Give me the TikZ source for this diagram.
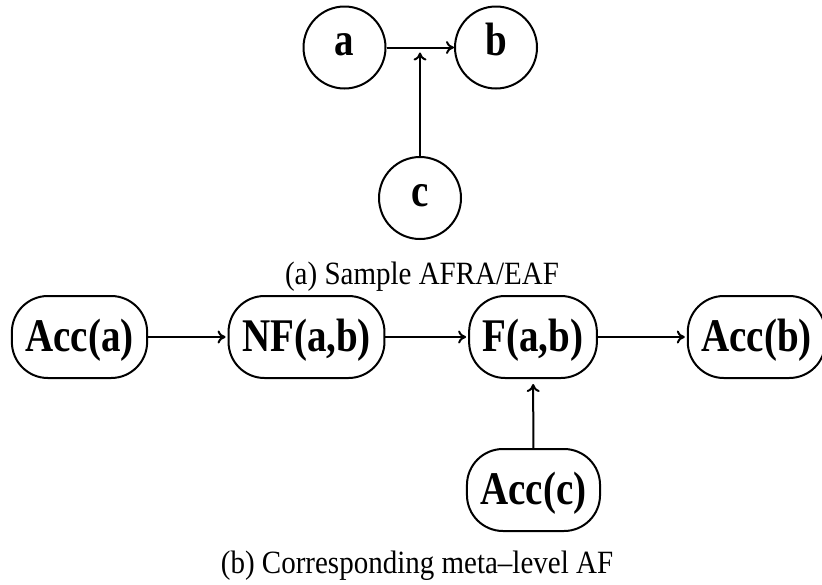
\documentclass[tikz,border=0pt]{standalone}
\usepackage{fontspec}
\usepackage{graphicx}
\setmainfont{Liberation Serif}
\usetikzlibrary{arrows.meta}
\newcommand{\tallt}[1]{\scalebox{1}[1.2]{#1}}
\newcommand{\capt}[1]{\scalebox{1}[1.12]{#1}}
\begin{document}
\begin{tikzpicture}[x=1pt,y=-1pt,
  line width=2pt,
  arg/.style={circle,draw,minimum size=82pt,inner sep=0pt,text height=26pt,text depth=10pt,font=\fontsize{39}{44}\selectfont\bfseries},
  meta/.style={rectangle,draw,rounded corners=36pt,minimum height=82pt,inner xsep=13.5pt,inner ysep=0pt,text height=34pt,text depth=6pt,font=\fontsize{39}{44}\selectfont\bfseries},
  captext/.style={anchor=base,inner sep=0pt,font=\fontsize{29}{32}\selectfont},
  att/.style={-{To[length=8pt,width=13pt]}}]
\useasboundingbox (0,0) rectangle (822,584);
% (a)
\node[arg] (a) at (344.5,47.5) {\tallt{a}};
\node[arg] (b) at (496,47.5) {\tallt{b}};
\node[arg] (c) at (420,198) {\tallt{c}};
\coordinate (m) at (420,52.5);
\draw[att] (a) -- (b);
\draw[att] (c) -- (m);
\node[captext] (capa) at (422,284) {\capt{(a) Sample AFRA/EAF}};
% (b)
\node[meta] (acca) at (79.5,337) {\tallt{Acc(a)}};
\node[meta] (nf) at (306.5,337) {\tallt{NF(a,b)}};
\node[meta] (f) at (533,337) {\tallt{F(a,b)}};
\node[meta] (accb) at (756.5,337) {\tallt{Acc(b)}};
\node[meta] (accc) at (533.5,490) {\tallt{Acc(c)}};
\draw[att,shorten >=2pt] (acca) -- (nf);
\draw[att,shorten >=2pt] (nf) -- (f);
\draw[att,shorten >=2pt] (f) -- (accb);
\draw[att,shorten >=5pt] (accc) -- (f);
\node[captext] (capb) at (417,573) {\capt{(b) Corresponding meta--level AF}};
\end{tikzpicture}
\end{document}
